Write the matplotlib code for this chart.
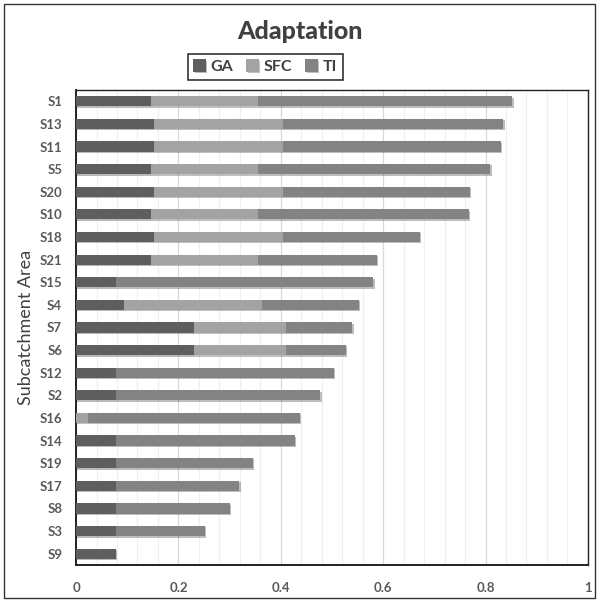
import matplotlib
matplotlib.use('Agg')
import numpy as np
import matplotlib.pyplot as plt
import matplotlib.patheffects as pe
from matplotlib.patches import Rectangle

plt.rcParams['font.family'] = ['Lato', 'DejaVu Sans']

# data, top to bottom as shown
areas = ['S1', 'S13', 'S11', 'S5', 'S20', 'S10', 'S18', 'S21', 'S15', 'S4', 'S7',
         'S6', 'S12', 'S2', 'S16', 'S14', 'S19', 'S17', 'S8', 'S3', 'S9']
ga = [0.147, 0.152, 0.152, 0.147, 0.152, 0.147, 0.152, 0.147, 0.078, 0.093, 0.231,
      0.231, 0.078, 0.078, 0.0, 0.078, 0.078, 0.078, 0.078, 0.078, 0.078]
sfc = [0.209, 0.252, 0.252, 0.209, 0.252, 0.209, 0.252, 0.209, 0.0, 0.271, 0.180,
       0.180, 0.0, 0.0, 0.024, 0.0, 0.0, 0.0, 0.0, 0.0, 0.0]
ti = [0.496, 0.431, 0.426, 0.453, 0.365, 0.411, 0.267, 0.232, 0.503, 0.188, 0.129,
      0.116, 0.426, 0.399, 0.413, 0.349, 0.267, 0.241, 0.222, 0.173, 0.0]
xticks = [0, 0.2, 0.4, 0.6, 0.8, 1]
xtick_labels = ['0', '0.2', '0.4', '0.6', '0.8', '1']

colors = {'GA': '#5e5e5e', 'SFC': '#a3a3a3', 'TI': '#838383'}

fig = plt.figure(figsize=(5.99, 6.02), dpi=100)
ax = fig.add_axes([0.127, 0.0615, 0.8545, 0.789])

y = np.arange(len(areas))
shadow = [pe.SimplePatchShadow(offset=(1.0, -1.0), alpha=0.3), pe.Normal()]
left = np.zeros(len(areas))
for name, vals in [('GA', ga), ('SFC', sfc), ('TI', ti)]:
    vals = np.array(vals)
    bars = ax.barh(y, vals, left=left, height=0.45, color=colors[name], label=name,
                   zorder=3)
    for b in bars:
        b.set_path_effects(shadow)
    left = left + vals

ax.set_ylim(len(areas) - 0.5, -0.5)
ax.set_xlim(0, 1)
ax.set_yticks(y)
ax.set_yticklabels(areas)
ax.set_xticks(xticks)
ax.set_xticklabels(xtick_labels)
ax.set_xticks(np.arange(0, 1.001, 0.04), minor=True)
ax.grid(axis='x', which='major', color='#d9d9d9', lw=0.9, zorder=0)
ax.grid(axis='x', which='minor', color='#f0f0f0', lw=0.9, zorder=0)
ax.tick_params(which='both', length=0)
ax.tick_params(axis='x', pad=12)
ax.tick_params(axis='y', pad=10)
for lab in ax.get_xticklabels() + ax.get_yticklabels():
    lab.set_fontweight('bold')
    lab.set_fontsize(9.5)
    lab.set_color('#595959')
for s in ax.spines.values():
    s.set_color('#222222')
    s.set_linewidth(1.0)
ax.spines['left'].set_linewidth(1.4)
ax.spines['bottom'].set_linewidth(1.4)

ax.set_ylabel('Subcatchment Area', fontsize=13, color='#404040', labelpad=4)

fig.text(0.5, 0.948, 'Adaptation', ha='center', va='center', fontsize=18,
         fontweight='black', color='#404040')

leg = fig.legend(loc='center', bbox_to_anchor=(0.4425, 0.889), ncol=3, frameon=True,
                 fancybox=False, edgecolor='black', handlelength=0.8, handleheight=0.8,
                 handletextpad=0.3, columnspacing=0.8, borderpad=0.35,
                 prop={'weight': 'bold', 'size': 11.5})
leg.get_frame().set_linewidth(1.2)
for t in leg.get_texts():
    t.set_color('#404040')

# outer chart border
fig.patches.append(Rectangle((0.007, 0.007), 0.986, 0.986, transform=fig.transFigure,
                             fill=False, edgecolor='#333333', lw=1.0))

fig.savefig('out.png', dpi=100)
